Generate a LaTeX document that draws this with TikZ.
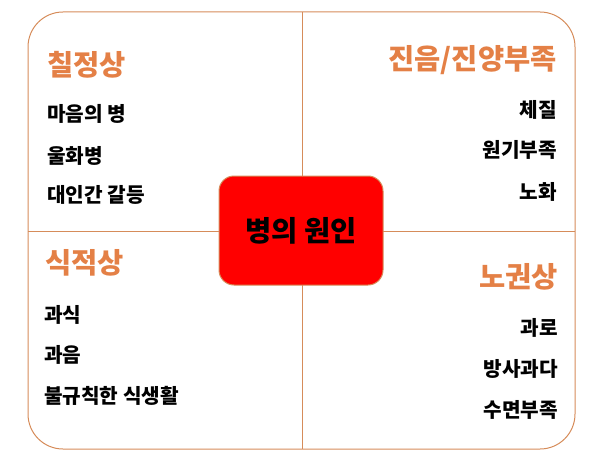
\documentclass[tikz,border=0pt]{standalone}
\usepackage{fontspec}
\setmainfont{Noto Sans CJK KR}
\definecolor{orng}{RGB}{228,128,70}
\definecolor{frameline}{RGB}{214,140,90}
\begin{document}
\begin{tikzpicture}[x=1pt,y=-1pt,
  frame/.style={draw=frameline,line width=1pt,rounded corners=35pt},
  divider/.style={draw=frameline,line width=1pt},
  title/.style={font=\fontsize{28.5}{32}\selectfont\bfseries,text=orng,inner sep=0pt},
  item/.style={font=\fontsize{20.2}{23}\selectfont\bfseries,text=black,inner sep=0pt},
  core/.style={draw=frameline,fill=red,line width=1pt,rounded corners=15pt,minimum width=164pt,minimum height=109pt,font=\fontsize{28.5}{32}\selectfont\bfseries,text=black}]
\useasboundingbox (0,0) rectangle (596,457);
\node[frame,minimum width=547pt,minimum height=437pt] (fr) at (301.5,230.5) {};
\coordinate (vt) at (302,12);
\coordinate (vb) at (302,449);
\coordinate (hl) at (28,231);
\coordinate (hr) at (575,231);
\draw[divider] (vt) -- (vb);
\draw[divider] (hl) -- (hr);
\node[core] (c) at (301,230.5) {병의 원인};
% top-left
\node[title,anchor=west] (t1) at (47,65) {칠정상};
\node[item,anchor=west] (a1) at (47,114) {마음의 병};
\node[item,anchor=west] (a2) at (47,156) {울화병};
\node[item,anchor=west] (a3) at (47,195) {대인간 갈등};
% top-right
\node[title,anchor=east] (t2) at (557,60) {진음/진양부족};
\node[item,anchor=east] (b1) at (557,110) {체질};
\node[item,anchor=east] (b2) at (557,150) {원기부족};
\node[item,anchor=east] (b3) at (557,192) {노화};
% bottom-left
\node[title,anchor=west] (t3) at (45,263) {식적상};
\node[item,anchor=west] (d1) at (44,315) {과식};
\node[item,anchor=west] (d2) at (44,355) {과음};
\node[item,anchor=west] (d3) at (44,396) {불규칙한 식생활};
% bottom-right
\node[title,anchor=east] (t4) at (558,277) {노권상};
\node[item,anchor=east] (e1) at (558,328) {과로};
\node[item,anchor=east] (e2) at (558,369) {방사과다};
\node[item,anchor=east] (e3) at (558,410) {수면부족};
\end{tikzpicture}
\end{document}
